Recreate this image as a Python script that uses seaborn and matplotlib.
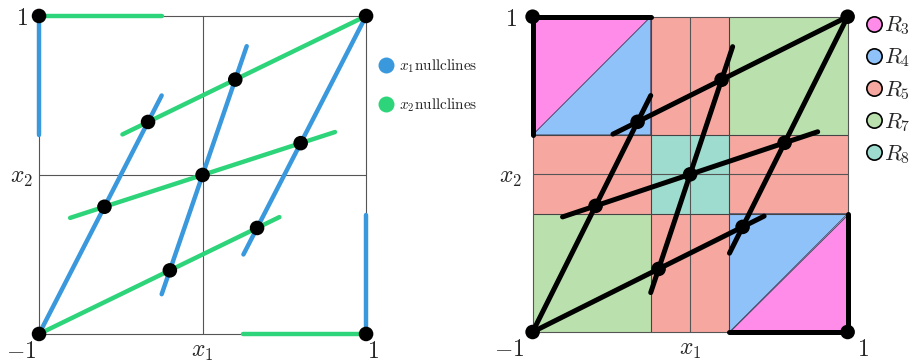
import numpy as np
import pandas as pd
import matplotlib
matplotlib.use("Agg")
import matplotlib.pyplot as plt
from matplotlib.lines import Line2D
from matplotlib.patches import Polygon
from matplotlib.transforms import ScaledTranslation
import seaborn as sns

sns.set_theme(style="white")
plt.rcParams["mathtext.fontset"] = "cm"
plt.rcParams["font.family"] = ["DejaVu Serif"]

# x1 nullcline segments: (x1_start, x2_start, x1_end, x2_end)
x1_null_x0 = [-1.0, -0.25, 0.25, -1.0, 1.0]
x1_null_y0 = [-1.0, -0.75, -0.50, 1.00, -1.0]
x1_null_x1 = [-0.25, 0.27, 1.0, -1.0, 1.0]
x1_null_y1 = [0.50, 0.81, 1.0, 0.25, -0.25]

# x2 nullcline segments
x2_null_x0 = [-1.0, -0.81, -0.49, -1.0, 0.25]
x2_null_y0 = [-1.0, -0.27, 0.255, 1.0, -1.0]
x2_null_x1 = [0.47, 0.81, 1.0, -0.25, 1.0]
x2_null_y1 = [-0.265, 0.27, 1.0, 1.0, -1.0]

# fixed points (intersections of the nullclines)
fp_x1 = [-1, 1, -1, 1, -1/3, -0.6, 0.0, 0.2, -0.2, 0.6, 1/3]
fp_x2 = [-1, 1, 1, -1, 1/3, -0.2, 0.0, 0.6, -0.6, 0.2, -1/3]

# region partition
cuts = [-1.0, -0.25, 0.25, 1.0]
region_names = ["R3", "R4", "R5", "R7", "R8"]
region_colors = ["#ff8ce8", "#90c2fa", "#f6a8a0", "#bae0ad", "#9ddccf"]

tick_x = [-1, 0, 1]
tick_x_labels = [r"$-1$", r"$x_1$", r"$1$"]
tick_y = [0, 1]
tick_y_labels = [r"$x_2$", r"$1$"]

BLUE = "#3a98dd"
GREEN = "#2ed47a"


def segments_frame(xs0, ys0, xs1, ys1, kind):
    rows = []
    for i, (p, q, r, s) in enumerate(zip(xs0, ys0, xs1, ys1)):
        rows.append(dict(x1=p, x2=q, seg=f"{kind}{i}", kind=kind))
        rows.append(dict(x1=r, x2=s, seg=f"{kind}{i}", kind=kind))
    return pd.DataFrame(rows)


seg_df = pd.concat([
    segments_frame(x1_null_x0, x1_null_y0, x1_null_x1, x1_null_y1, "x1"),
    segments_frame(x2_null_x0, x2_null_y0, x2_null_x1, x2_null_y1, "x2"),
], ignore_index=True)
fp_df = pd.DataFrame({"x1": fp_x1, "x2": fp_x2})

fig = plt.figure(figsize=(9.12, 3.63), dpi=100)
axL = fig.add_axes([0.0428, 0.080, 0.3586, 0.876])
axR = fig.add_axes([0.584, 0.0854, 0.3454, 0.8686])


def shift(artist, dx_px, dy_px=0.0):
    artist.set_transform(artist.get_transform() +
                         ScaledTranslation(dx_px / 100, dy_px / 100,
                                           fig.dpi_scale_trans))


def style_axes(ax, ypad, x_first_dx, x_last_dx):
    ax.set_xlim(-1, 1)
    ax.set_ylim(-1, 1)
    ax.set_xticks(tick_x)
    ax.set_xticklabels(tick_x_labels, fontsize=17)
    ax.set_yticks(tick_y)
    ax.set_yticklabels(tick_y_labels, fontsize=17)
    ax.tick_params(axis="x", length=0, pad=4)
    ax.tick_params(axis="y", length=0, pad=ypad)
    xl = ax.get_xticklabels()
    xl[0].set_ha("right")
    shift(xl[0], x_first_dx)
    xl[2].set_ha("left")
    shift(xl[2], x_last_dx)
    yl = ax.get_yticklabels()
    shift(yl[1], -5)
    for s in ax.spines.values():
        s.set_color("#555555")
        s.set_linewidth(0.8)
    ax.axhline(0, color="#555555", lw=0.8, zorder=1.5)
    ax.axvline(0, color="#555555", lw=0.8, zorder=1.5)


# ---- left panel: nullclines ----
style_axes(axL, ypad=4.5, x_first_dx=-3, x_last_dx=1)
sns.lineplot(data=seg_df, x="x1", y="x2", hue="kind", units="seg",
             estimator=None, sort=False, palette={"x1": BLUE, "x2": GREEN},
             linewidth=3.2, legend=False, ax=axL, zorder=3)
sns.scatterplot(data=fp_df, x="x1", y="x2", color="black", s=110,
                edgecolor="none", ax=axL, zorder=5)
axL.set_xlabel("")
axL.set_ylabel("")
for ln in axL.lines:
    ln.set_clip_on(False)
    ln.set_solid_capstyle("round")
for coll in axL.collections:
    coll.set_clip_on(False)

hL = [Line2D([], [], ls="", marker="o", ms=11.5, color=BLUE, mec="none"),
      Line2D([], [], ls="", marker="o", ms=11.5, color=GREEN, mec="none")]
axL.legend(hL, [r"$x_1\mathrm{nullclines}$", r"$x_2\mathrm{nullclines}$"],
           loc="upper left", bbox_to_anchor=(1.02, 0.89), frameon=False,
           fontsize=11, handlelength=1.0, handletextpad=0.3,
           labelspacing=1.45, borderaxespad=0.0)

# ---- right panel: regions ----
style_axes(axR, ypad=8, x_first_dx=-8, x_last_dx=9)
c3, c4, c5, c7, c8 = region_colors
a, b, c, d = cuts


def rect(x0, x1, y0, y1):
    return [(x0, y0), (x1, y0), (x1, y1), (x0, y1)]


patches = [
    (rect(c, d, c, d), c7), (rect(a, b, a, b), c7),
    (rect(b, c, b, c), c8),
    (rect(b, c, c, d), c5), (rect(b, c, a, b), c5),
    (rect(a, b, b, c), c5), (rect(c, d, b, c), c5),
    ([(a, c), (a, d), (b, d)], c3), ([(a, c), (b, d), (b, c)], c4),
    ([(c, a), (d, a), (d, b)], c3), ([(c, a), (d, b), (c, b)], c4),
]
for verts, col in patches:
    axR.add_patch(Polygon(verts, closed=True, facecolor=col,
                          edgecolor="#3a3a5a", lw=0.6, zorder=1))
for v in [b, c]:
    axR.axhline(v, color="#444444", lw=0.8, zorder=1.5)
    axR.axvline(v, color="#444444", lw=0.8, zorder=1.5)

sns.lineplot(data=seg_df, x="x1", y="x2", units="seg", estimator=None,
             sort=False, color="black", linewidth=3.6, legend=False,
             ax=axR, zorder=3)
sns.scatterplot(data=fp_df, x="x1", y="x2", color="black", s=110,
                edgecolor="none", ax=axR, zorder=5)
axR.set_xlabel("")
axR.set_ylabel("")
for ln in axR.lines:
    ln.set_clip_on(False)
    ln.set_solid_capstyle("round")
for coll in axR.collections:
    coll.set_clip_on(False)

hR = [Line2D([], [], ls="", marker="o", ms=11, color=col, mec="black",
             mew=1.2) for col in region_colors]
axR.legend(hR, [rf"$R_{n[1:]}$" for n in region_names],
           loc="upper left", bbox_to_anchor=(1.03, 1.035), frameon=False,
           fontsize=16, handlelength=0.7, handletextpad=0.1,
           labelspacing=0.42, borderaxespad=0.0)

fig.savefig("out.png", dpi=100)
